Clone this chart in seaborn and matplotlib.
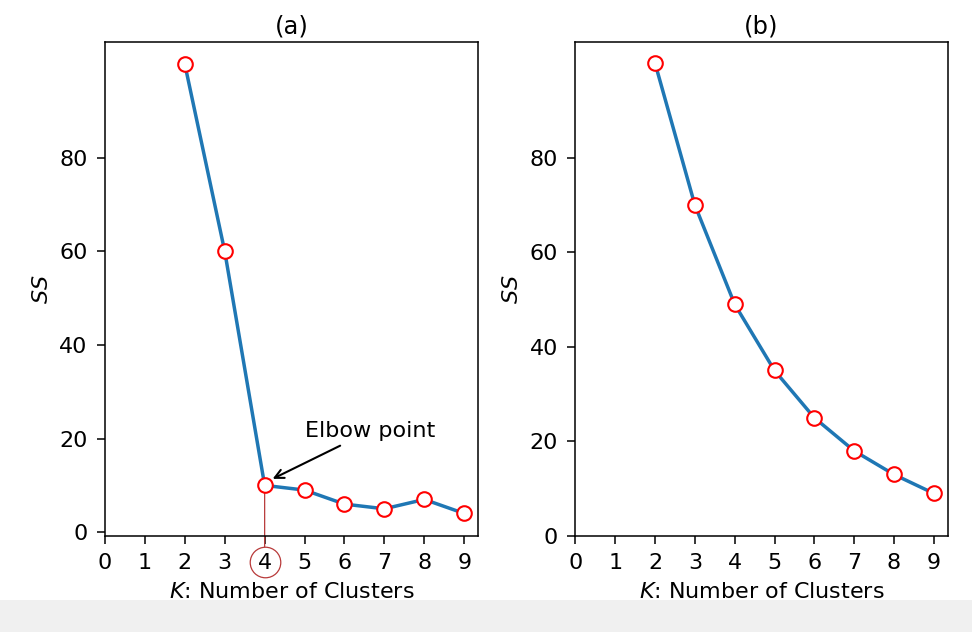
import matplotlib
matplotlib.use("Agg")
import matplotlib.pyplot as plt
from matplotlib.patches import Rectangle
import seaborn as sns

# number of clusters and sum of squares for both panels
k_values = [2, 3, 4, 5, 6, 7, 8, 9]
ss_elbow = [100, 60, 10, 9, 6, 5, 7, 4]
ss_smooth = [100, 70, 49, 35, 25, 18, 13, 9]
x_ticks = [0, 1, 2, 3, 4, 5, 6, 7, 8, 9]
y_ticks = [0, 20, 40, 60, 80]
elbow_k = 4
elbow_ss = 10

sns.set_style("ticks", {"text.color": "black", "axes.labelcolor": "black",
                        "xtick.color": "black", "ytick.color": "black",
                        "axes.edgecolor": "black"})
plt.rcParams["font.family"] = ["DejaVu Sans"]

fig = plt.figure(figsize=(9.72, 6.32), dpi=100)
ax_a = fig.add_axes([0.108, 0.152, 0.384, 0.782])
ax_b = fig.add_axes([0.592, 0.152, 0.383, 0.782])

line_kw = dict(marker="o", markersize=10.5, markerfacecolor="white",
               markeredgecolor="red", markeredgewidth=1.5,
               color="#1f77b4", linewidth=2.5)

def draw_panel(ax, ss, title):
    sns.lineplot(x=k_values, y=ss, ax=ax, zorder=3, **line_kw)
    ax.set_xticks(x_ticks)
    ax.set_yticks(y_ticks)
    ax.set_title(title, fontsize=17.5, pad=6)
    ax.set_xlabel("$K$: Number of Clusters", fontsize=16, labelpad=6)
    ax.set_ylabel("$SS$", fontsize=16, labelpad=5.5)
    ax.tick_params(labelsize=16, length=5.5, width=1.1, pad=7)
    for sp in ax.spines.values():
        sp.set_linewidth(1.1)
    ax.set_xlim(0, 9.35)

draw_panel(ax_a, ss_elbow, "(a)")
ax_a.set_ylim(-0.8, 104.8)
draw_panel(ax_b, ss_smooth, "(b)")
ax_b.set_ylim(0, 104.55)

# elbow annotation
ax_a.annotate("Elbow point", xy=(4.2, 11.4), xytext=(5.0, 20.3),
              fontsize=16,
              arrowprops=dict(arrowstyle="->", color="black", lw=1.5,
                              shrinkA=2, shrinkB=0))

# thin red guide line down to the circled tick label
ax_a.annotate("", xy=(elbow_k, elbow_ss), xycoords="data",
              xytext=(elbow_k, -0.022), textcoords=("data", "axes fraction"),
              arrowprops=dict(arrowstyle="-", color="#b83a3a", lw=0.9,
                              shrinkA=0, shrinkB=0), zorder=2)
ax_a.plot([elbow_k], [-0.053], marker="o", markersize=22,
          markerfacecolor="none", markeredgecolor="#b83a3a",
          markeredgewidth=0.9, clip_on=False,
          transform=ax_a.get_xaxis_transform())

# grey strip at the bottom of the screenshot
fig.patches.append(Rectangle((0, 0), 1, 32 / 632, transform=fig.transFigure,
                             facecolor="#f0f0f0", edgecolor="none", zorder=0))

fig.savefig("out.png", dpi=100)
